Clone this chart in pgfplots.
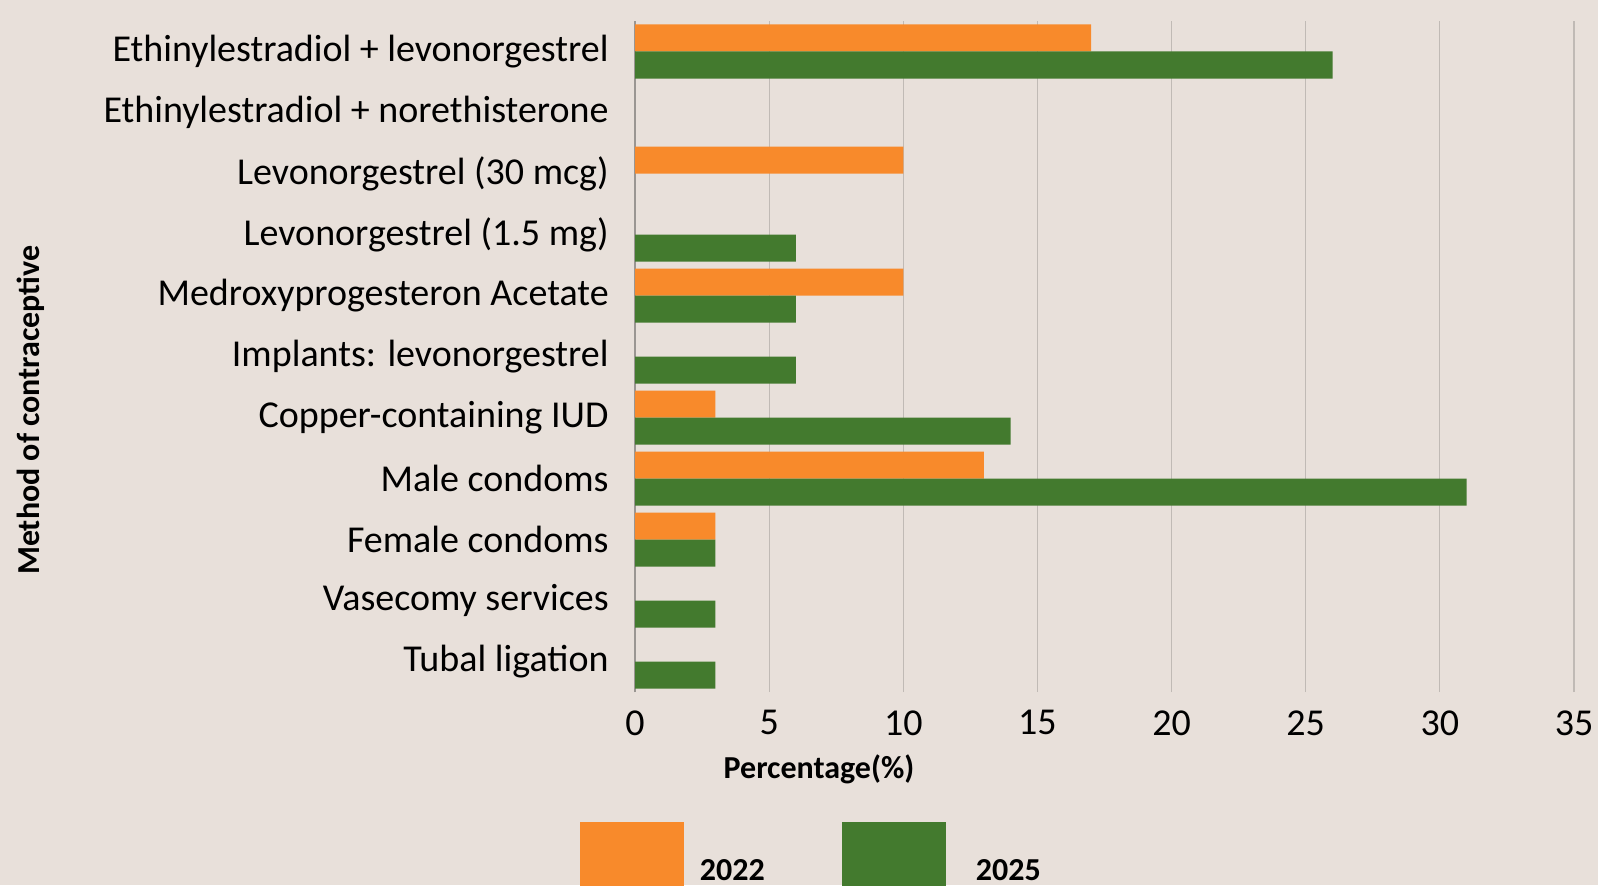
\documentclass[border=0pt]{standalone}
\usepackage{pgfplots}
\pgfplotsset{compat=1.18}
\usepackage{fontspec}
\setmainfont{Carlito}
\definecolor{bg}{HTML}{E8E0DA}
\definecolor{cOr}{HTML}{F88A2B}
\definecolor{cGr}{HTML}{437A2E}
\definecolor{gridc}{HTML}{C0BAB5}
\definecolor{axc}{HTML}{9A9692}
\begin{document}
\begin{tikzpicture}
\fill[bg] (0,0) rectangle (799pt,442.5pt);
\path[use as bounding box] (0,0) rectangle (799pt,442.5pt);
\begin{axis}[
  at={(317.5pt,96.5pt)}, anchor=south west,
  scale only axis, width=469.5pt, height=335.5pt,
  xbar, bar width=13.5pt,
  xmin=0, xmax=35, ymin=-0.5, ymax=10.5,
  xtick={0,5,...,35}, ytick={0,...,10},
  yticklabels={Tubal ligation, Vasecomy services, Female condoms, Male condoms, Copper-containing IUD, {Implants: levonorgestrel}, Medroxyprogesteron Acetate, Levonorgestrel (1.5 mg), Levonorgestrel (30 mcg), Ethinylestradiol + norethisterone, Ethinylestradiol + levonorgestrel},
  axis lines*=left,
  x axis line style={draw=none},
  y axis line style={draw=axc, line width=0.8pt},
  major tick length=0pt,
  xmajorgrids, grid style={draw=gridc, line width=0.6pt},
  /pgf/number format/assume math mode=true,
  ticklabel style={font=\fontsize{19}{22}\selectfont},
  xticklabel style={inner sep=0pt, anchor=north, yshift=-9pt},
  yticklabel style={inner sep=0pt, anchor=east, xshift=-13pt},
  xlabel={Percentage(\%)}, ylabel={Method of contraceptive},
  every axis x label/.style={at={(rel axis cs:0.196,-0.115)}, anchor=center, font=\bfseries\fontsize{16}{19}\selectfont},
  every axis y label/.style={at={(rel axis cs:-0.643,0.42)}, anchor=center, rotate=90, font=\bfseries\fontsize{16}{19}\selectfont},
  legend style={at={(rel axis cs:-0.0586,-0.194)}, anchor=north west, draw=none, fill=none,
    inner sep=0pt, outer sep=0pt, nodes={inner sep=0pt},
    font=\bfseries\fontsize{16}{19}\selectfont,
    /tikz/every odd column/.append style={column sep=8pt},
    /tikz/every even column/.append style={column sep=38.5pt}},
  legend columns=2,
  legend image code/.code={\path[#1, draw=none] (0pt,-14pt) rectangle (52pt,24.5pt);},
]
\addplot[fill=cOr, draw=none, bar shift=6.75pt] coordinates {
  (17,10) (10,8) (10,6) (3,4) (13,3) (3,2)
};
\addplot[fill=cGr, draw=none, bar shift=-6.75pt] coordinates {
  (26,10) (6,7) (6,6) (6,5) (14,4) (31,3) (3,2) (3,1) (3,0)
};
\legend{2022,\hspace*{7pt}2025}
\end{axis}
\end{tikzpicture}
\end{document}
